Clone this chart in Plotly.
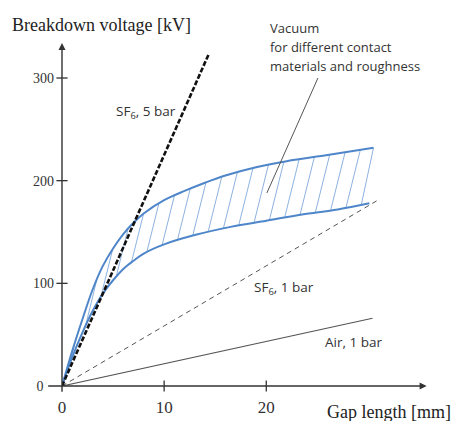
import numpy as np
import plotly.graph_objects as go

# ---- data ----
gap_upper = [0, 1, 2, 3, 4, 5, 6, 7, 8, 10, 12, 14, 16, 19, 22, 26, 30.5]
vac_upper = [0, 34, 65, 94, 117, 134, 148, 159, 168, 181, 190, 198, 205, 213, 219, 225, 232]
gap_lower = [0, 1, 2, 3, 4, 5, 6, 7, 8, 10, 13, 16.5, 20, 23.5, 27, 30.1]
vac_lower = [0, 28, 52, 73, 90, 103, 114, 122, 129, 138, 147, 155, 161, 167, 172, 178]

sf6_5_gap = [0, 14.4]
sf6_5_kv = [0, 324]
sf6_1_gap = [0, 31.1]
sf6_1_kv = [0, 182]
air_gap = [0, 30.4]
air_kv = [0, 66]

pointer_gap = [25.06, 20.06]
pointer_kv = [300, 188]

x_ticks = [0, 10, 20]
y_ticks = [0, 100, 200, 300]
y_tick_text = ["0\u00a0\u00a0\u00a0", "100", "200", "300"]

# hatching derived from the two vacuum curves
hatch_step = 1.5
hatch_last = 29.3
hatch_slant = 0.025  # mm per kV
xb_list = hatch_last - hatch_step * np.arange(0, 20)
hx, hy = [], []
for xb in xb_list:
    if xb <= 0.3:
        continue
    yb = np.interp(xb, gap_lower, vac_lower)
    xt = xb
    for _ in range(6):
        yt = np.interp(xt, gap_upper, vac_upper)
        xt = xb + hatch_slant * (yt - yb)
    xt = min(xt, gap_upper[-1])
    yt = np.interp(xt, gap_upper, vac_upper)
    hx += [xb, xt, None]
    hy += [yb, yt, None]

blue = "#4f86c9"
hatch_blue = "#8db2df"
fig = go.Figure()

fig.add_trace(go.Scatter(x=hx, y=hy, mode="lines",
                         line=dict(color=hatch_blue, width=1), hoverinfo="skip"))
fig.add_trace(go.Scatter(x=gap_upper, y=vac_upper, mode="lines",
                         line=dict(color=blue, width=2, shape="spline", smoothing=1)))
fig.add_trace(go.Scatter(x=gap_lower, y=vac_lower, mode="lines",
                         line=dict(color=blue, width=2, shape="spline", smoothing=1)))
fig.add_trace(go.Scatter(x=air_gap, y=air_kv, mode="lines",
                         line=dict(color="#555555", width=1.2)))
fig.add_trace(go.Scatter(x=sf6_1_gap, y=sf6_1_kv, mode="lines",
                         line=dict(color="#555555", width=1, dash="5px,4px")))
fig.add_trace(go.Scatter(x=sf6_5_gap, y=sf6_5_kv, mode="lines",
                         line=dict(color="#111111", width=2.6, dash="5px,2px")))
fig.add_trace(go.Scatter(x=pointer_gap, y=pointer_kv, mode="lines",
                         line=dict(color="#555555", width=1)))

# tick marks crossing the axes
fig.add_trace(go.Scatter(x=[0] * (len(y_ticks) - 1), y=y_ticks[1:], mode="markers",
                         marker=dict(symbol="line-ew", size=8,
                                     line=dict(color="#333333", width=1.3)),
                         cliponaxis=False))
fig.add_trace(go.Scatter(x=x_ticks[1:], y=[0] * (len(x_ticks) - 1), mode="markers",
                         marker=dict(symbol="line-ns", size=8,
                                     line=dict(color="#333333", width=1.3)),
                         cliponaxis=False))

# axis lines with arrows
fig.add_annotation(x=35.7, y=0, ax=-1.5, ay=0, xref="x", yref="y", axref="x", ayref="y",
                   text="", showarrow=True, arrowhead=2, arrowsize=1, arrowwidth=1.4,
                   arrowcolor="#333333")
fig.add_annotation(x=0, y=334, ax=0, ay=-7, xref="x", yref="y", axref="x", ayref="y",
                   text="", showarrow=True, arrowhead=2, arrowsize=1, arrowwidth=1.4,
                   arrowcolor="#333333")

lab_font = dict(family="Open Sans", size=13.5, color="#333333")
fig.add_annotation(x=8.2, y=267, xref="x", yref="y", text="SF<sub>6</sub>, 5 bar",
                   showarrow=False, font=lab_font)
fig.add_annotation(x=21.7, y=95, xref="x", yref="y", text="SF<sub>6</sub>, 1 bar",
                   showarrow=False, font=lab_font)
fig.add_annotation(x=28.5, y=42.6, xref="x", yref="y", text="Air, 1 bar",
                   showarrow=False, font=lab_font)
vac_lines = ["Vacuum", "for different contact", "materials and roughness"]
vac_y = [1.032, 0.977, 0.922]
for t, yy in zip(vac_lines, vac_y):
    fig.add_annotation(x=0.537, y=yy, xref="paper", yref="paper", text=t, showarrow=False,
                       xanchor="left", yanchor="middle", font=dict(family="Open Sans", size=13, color="#333333"))

title_font = dict(family="Liberation Serif", size=18, color="#222222")
fig.add_annotation(x=-0.137, y=1.0407, xref="paper", yref="paper",
                   text="Breakdown voltage [kV]", showarrow=False,
                   xanchor="left", yanchor="middle", font=title_font)
fig.add_annotation(x=1.021, y=-0.076, xref="paper", yref="paper",
                   text="Gap length [mm]", showarrow=False,
                   xanchor="right", yanchor="middle", font=title_font)

fig.update_layout(
    width=454, height=421,
    margin=dict(l=62.4, r=9.1, t=39.1, b=35.3, autoexpand=False),
    paper_bgcolor="white", plot_bgcolor="white",
    showlegend=False,
    xaxis=dict(range=[0, 37.5], showgrid=False, zeroline=False, showline=False,
               automargin=False,
               tickvals=x_ticks, ticktext=[str(v) for v in x_ticks], ticks="",
               ticklabelstandoff=9,
               tickfont=dict(family="Liberation Serif", size=17, color="#333333")),
    yaxis=dict(range=[0, 338], showgrid=False, zeroline=False, showline=False,
               automargin=False,
               tickvals=y_ticks, ticktext=y_tick_text, ticks="",
               ticklabelstandoff=7,
               tickfont=dict(family="Liberation Serif", size=14, color="#333333")),
)

fig.write_html("out.html")
